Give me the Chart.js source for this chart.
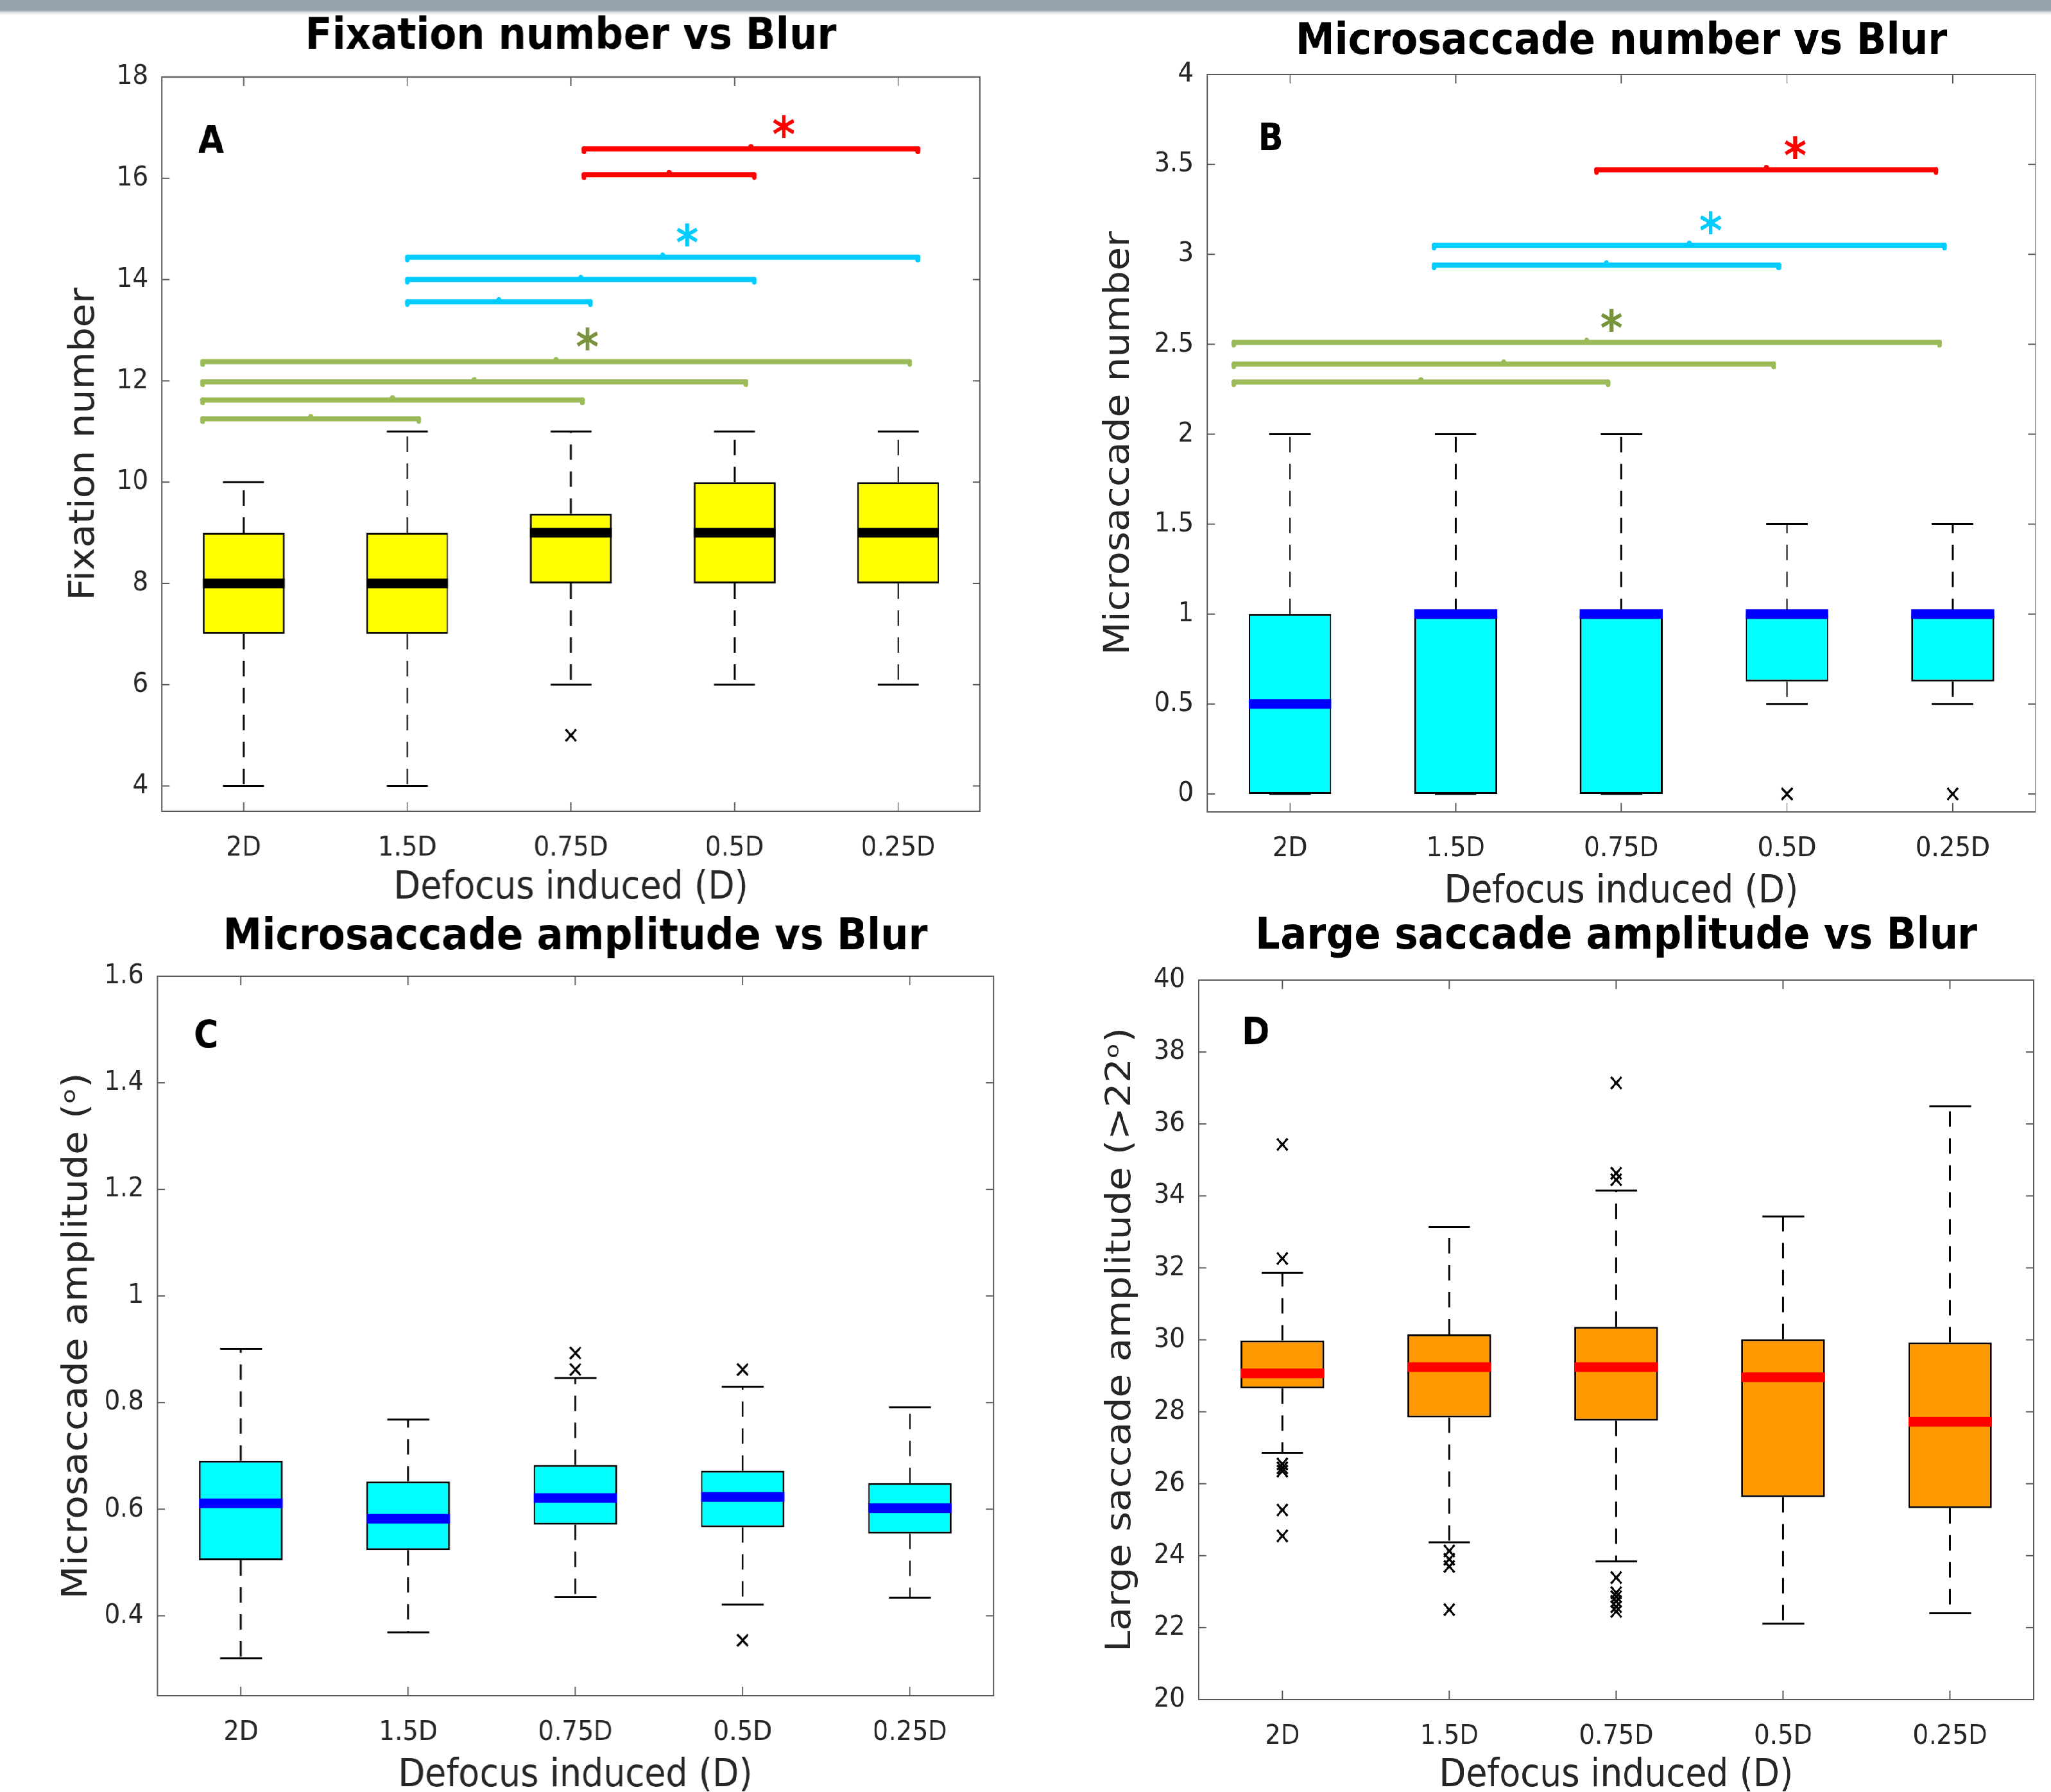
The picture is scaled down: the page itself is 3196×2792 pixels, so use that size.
<!DOCTYPE html>
<html>
<head>
<meta charset="utf-8">
<script src="https://cdn.jsdelivr.net/npm/chart.js@4.4.1/dist/chart.umd.min.js"></script>
<style>
html, body { margin: 0; padding: 0; background: #fff; width: 3196px; height: 2792px; overflow: hidden; }
#topbar { position: absolute; left: 0; top: 0; width: 3196px; height: 24px; z-index: 5;
  background: linear-gradient(#94a3aa 0px, #94a3aa 16px, #d9dcdd 19px, #fff 24px); }
#stage { position: absolute; left: 0; top: 0; width: 3552px; height: 2792px; transform: scaleX(0.9); transform-origin: 0 0; }
#stage canvas { position: absolute; }
</style>
</head>
<body>
<div id="topbar"></div>
<div id="stage"></div>
<script>
// ---- data ----
const categories = ['2D', '1.5D', '0.75D', '0.5D', '0.25D'];

// A: fixation number
const fixLow = [4, 4, 6, 6, 6];
const fixQ1 = [7, 7, 8, 8, 8];
const fixMedian = [8, 8, 9, 9, 9];
const fixQ3 = [9, 9, 9.375, 10, 10];
const fixHigh = [10, 11, 11, 11, 11];
const fixOutliers = [[2, 5]];
const fixTicks = [4, 6, 8, 10, 12, 14, 16, 18];
const fixSigGreen = [[0, 1, 11.25], [0, 2, 11.62], [0, 3, 11.98], [0, 4, 12.38]];
const fixSigCyan = [[1, 2, 13.56], [1, 3, 14.0], [1, 4, 14.44]];
const fixSigRed = [[2, 3, 16.07], [2, 4, 16.58]];

// B: microsaccade number
const msnLow = [0, 0, 0, 0.5, 0.5];
const msnQ1 = [0, 0, 0, 0.625, 0.625];
const msnMedian = [0.5, 1, 1, 1, 1];
const msnQ3 = [1, 1, 1, 1, 1];
const msnHigh = [2, 2, 2, 1.5, 1.5];
const msnOutliers = [[3, 0], [4, 0]];
const msnTicks = [0, 0.5, 1, 1.5, 2, 2.5, 3, 3.5, 4];
const msnSigGreen = [[0, 2, 2.29], [0, 3, 2.39], [0, 4, 2.51]];
const msnSigCyan = [[1, 3, 2.94], [1, 4, 3.05]];
const msnSigRed = [[2, 4, 3.47]];

// C: microsaccade amplitude
const msaLow = [0.32, 0.369, 0.435, 0.421, 0.434];
const msaQ1 = [0.504, 0.523, 0.571, 0.566, 0.554];
const msaMedian = [0.611, 0.582, 0.621, 0.623, 0.602];
const msaQ3 = [0.691, 0.652, 0.683, 0.672, 0.649];
const msaHigh = [0.901, 0.768, 0.846, 0.83, 0.791];
const msaOutliers = [[2, 0.893], [2, 0.862], [3, 0.862], [3, 0.354]];
const msaTicks = [0.4, 0.6, 0.8, 1, 1.2, 1.4, 1.6];

// D: large saccade amplitude
const lsaLow = [26.86, 24.37, 23.84, 22.11, 22.4];
const lsaQ1 = [28.65, 27.84, 27.75, 25.63, 25.32];
const lsaMedian = [29.07, 29.24, 29.24, 28.96, 27.72];
const lsaQ3 = [29.98, 30.15, 30.36, 30.02, 29.93];
const lsaHigh = [31.86, 33.14, 34.15, 33.43, 36.49];
const lsaOutliers = [
  [0, 35.43], [0, 32.26], [0, 26.55], [0, 26.44], [0, 26.35], [0, 25.27], [0, 24.55],
  [1, 24.13], [1, 23.9], [1, 23.7], [1, 22.5],
  [2, 37.14], [2, 34.63], [2, 34.45], [2, 23.39], [2, 22.97], [2, 22.86], [2, 22.73], [2, 22.58], [2, 22.45]
];
const lsaTicks = [20, 22, 24, 26, 28, 30, 32, 34, 36, 38, 40];

// ---- styling / layout ----
const SX = 0.9; // the figure is horizontally squeezed
const FONT = '"DejaVu Sans", "Noto Sans", sans-serif';
const GREEN = '#9bbb59', GREEN_STAR = '#77933c', CYAN = '#00ccff', RED = '#ff0000';

function line(ctx, x0, y0, x1, y1) {
    ctx.beginPath();
    ctx.moveTo(x0, y0);
    ctx.lineTo(x1, y1);
    ctx.stroke();
}

// draws whiskers, medians, the axes box and significance bars
function boxParts(stats, panel) {
    return {
        id: 'boxparts',
        beforeDatasetsDraw(chart) {
            const { ctx, scales: { x, y } } = chart;
            const step = x.getPixelForValue(1) - x.getPixelForValue(0);
            ctx.save();
            ctx.strokeStyle = '#000';
            ctx.lineWidth = 3;
            stats.q1.forEach((q1, i) => {
                const cx = x.getPixelForValue(i);
                ctx.setLineDash([24, 18]);
                [[stats.q3[i], stats.high[i]], [q1, stats.low[i]]].forEach(([a, b]) => {
                    if (a !== b) line(ctx, cx, y.getPixelForValue(a), cx, y.getPixelForValue(b));
                });
                ctx.setLineDash([]);
                [stats.high[i], stats.low[i]].forEach(v => {
                    const py = y.getPixelForValue(v);
                    line(ctx, cx - step * 0.125, py, cx + step * 0.125, py);
                });
            });
            ctx.restore();
        },
        afterDatasetsDraw(chart) {
            const { ctx, chartArea: a, scales: { x, y } } = chart;
            const bars = chart.getDatasetMeta(0).data;
            const step = x.getPixelForValue(1) - x.getPixelForValue(0);
            const catX = f => x.getPixelForValue(0) + f * step;
            ctx.save();

            // medians
            ctx.strokeStyle = stats.medianColor;
            ctx.lineWidth = 15;
            stats.median.forEach((m, i) => {
                const el = bars[i];
                const py = y.getPixelForValue(m);
                line(ctx, el.x - el.width / 2, py, el.x + el.width / 2, py);
            });

            // axes box with inward ticks
            ctx.strokeStyle = '#595959';
            ctx.lineWidth = 2;
            ctx.strokeRect(a.left, a.top, a.right - a.left, a.bottom - a.top);
            y.ticks.forEach(t => {
                const py = y.getPixelForValue(t.value);
                line(ctx, a.left, py, a.left + 13, py);
                line(ctx, a.right - 13, py, a.right, py);
            });
            categories.forEach((c, i) => {
                const px = x.getPixelForValue(i);
                line(ctx, px, a.bottom, px, a.bottom - 14);
                line(ctx, px, a.top, px, a.top + 14);
            });

            // significance bars
            (panel.sig || []).forEach(g => {
                ctx.strokeStyle = g.color;
                ctx.fillStyle = g.color;
                ctx.lineWidth = 8;
                ctx.lineCap = 'round';
                g.rows.forEach(([i, j, v]) => {
                    const x0 = catX(i + g.start), x1 = catX(j + g.end);
                    const py = y.getPixelForValue(v);
                    line(ctx, x0, py, x1, py);
                    line(ctx, x0, py, x0, py + 4);
                    line(ctx, x1, py, x1, py + 4);
                    ctx.beginPath();
                    ctx.arc((x0 + x1) / 2, py - 3, 4.5, 0, 2 * Math.PI);
                    ctx.fill();
                });
                const topV = Math.max(...g.rows.map(r => r[2]));
                ctx.fillStyle = g.starColor;
                ctx.font = `bold 76px ${FONT}`;
                ctx.textAlign = 'center';
                ctx.textBaseline = 'alphabetic';
                ctx.fillText('*', catX(g.starX), y.getPixelForValue(topV) + 4);
            });

            // panel letter
            ctx.fillStyle = '#000';
            ctx.font = `bold 58px ${FONT}`;
            ctx.textAlign = 'center';
            ctx.textBaseline = 'middle';
            ctx.fillText(panel.letter, a.left + panel.letterDX / SX, a.top + panel.letterDY);
            ctx.restore();
        }
    };
}

function makePanel(panel, stats) {
    const canvas = document.createElement('canvas');
    const w = (panel.cR - panel.cL) / SX;
    const h = panel.cB - panel.cT;
    canvas.width = w;
    canvas.height = h;
    canvas.style.left = (panel.cL / SX) + 'px';
    canvas.style.top = panel.cT + 'px';
    canvas.style.width = w + 'px';
    canvas.style.height = h + 'px';
    document.getElementById('stage').appendChild(canvas);

    const titleLH = 68 * 1.2;
    const titleTop = panel.titleY - panel.cT - titleLH / 2;
    const titleBottom = (panel.pT - panel.cT) - titleTop - titleLH;
    const axisLH = 60 * 1.2;

    new Chart(canvas, {
        type: 'bar',
        data: {
            labels: categories,
            datasets: [{
                type: 'bar',
                data: stats.q1.map((v, i) => [v, stats.q3[i]]),
                backgroundColor: stats.fill,
                borderColor: '#000',
                borderWidth: 3,
                borderSkipped: false,
                barPercentage: 0.5,
                categoryPercentage: 1,
                grouped: false
            }, {
                type: 'line',
                data: stats.outliers.map(([i, v]) => ({ x: categories[i], y: v })),
                showLine: false,
                pointStyle: 'crossRot',
                pointRadius: 13,
                borderColor: '#000',
                pointBorderColor: '#000',
                pointBorderWidth: 3.5,
                pointBackgroundColor: 'rgba(0,0,0,0)'
            }]
        },
        options: {
            responsive: false,
            animation: false,
            devicePixelRatio: 1,
            layout: { padding: { left: 0, top: 0, bottom: 0, right: (panel.cR - panel.pR) / SX } },
            plugins: {
                legend: { display: false },
                tooltip: { enabled: false },
                title: {
                    display: true,
                    text: panel.title,
                    fullSize: false,
                    color: '#000',
                    font: { family: FONT, size: 68, weight: 'bold', lineHeight: 1.2 },
                    padding: { top: titleTop, bottom: titleBottom }
                }
            },
            scales: {
                x: {
                    offset: true,
                    grid: { display: false },
                    border: { display: false },
                    ticks: { color: '#262626', font: { family: FONT, size: 43 }, padding: 24, maxRotation: 0, autoSkip: false },
                    title: {
                        display: true,
                        text: 'Defocus induced (D)',
                        color: '#262626',
                        font: { family: FONT, size: 60, lineHeight: 1.2 },
                        padding: { top: 0, bottom: panel.cB - panel.xlabY - axisLH / 2 }
                    },
                    afterFit: s => { s.height = panel.cB - panel.pB; }
                },
                y: {
                    min: stats.min,
                    max: stats.max,
                    afterBuildTicks: s => { s.ticks = stats.ticks.map(v => ({ value: v })); },
                    grid: { display: false },
                    border: { display: false },
                    ticks: { color: '#262626', font: { family: FONT, size: 43 }, padding: 15.6, callback: v => String(v) },
                    title: {
                        display: true,
                        text: panel.ylabel,
                        color: '#262626',
                        font: { family: FONT, size: 60, lineHeight: 1.2 },
                        padding: { top: (panel.ylabX - panel.cL) / SX - axisLH / 2, bottom: 0 }
                    },
                    afterFit: s => { s.width = (panel.pL - panel.cL) / SX; }
                }
            }
        },
        plugins: [boxParts(stats, panel)]
    });
}

makePanel({
    cL: 0, cR: 1600, cT: 0, cB: 1440, pL: 252, pR: 1527, pT: 120, pB: 1264,
    titleY: 58, ylabX: 132, xlabY: 1384,
    title: 'Fixation number vs Blur', ylabel: 'Fixation number',
    letter: 'A', letterDX: 77, letterDY: 103,
    sig: [
        { rows: fixSigGreen, color: GREEN, starColor: GREEN_STAR, start: -0.25, end: 0.07, starX: 2.1 },
        { rows: fixSigCyan, color: CYAN, starColor: CYAN, start: 0, end: 0.12, starX: 2.71 },
        { rows: fixSigRed, color: RED, starColor: RED, start: 0.08, end: 0.12, starX: 3.3 }
    ]
}, { low: fixLow, q1: fixQ1, median: fixMedian, q3: fixQ3, high: fixHigh, outliers: fixOutliers,
     ticks: fixTicks, min: 3.5, max: 18, fill: '#ffff00', medianColor: '#000000' });

makePanel({
    cL: 1600, cR: 3196, cT: 0, cB: 1440, pL: 1881, pR: 3172, pT: 116, pB: 1265,
    titleY: 66, ylabX: 1744, xlabY: 1390,
    title: 'Microsaccade number vs Blur', ylabel: 'Microsaccade number',
    letter: 'B', letterDX: 99, letterDY: 103,
    sig: [
        { rows: msnSigGreen, color: GREEN, starColor: GREEN_STAR, start: -0.34, end: -0.08, starX: 1.94 },
        { rows: msnSigCyan, color: CYAN, starColor: CYAN, start: -0.13, end: -0.05, starX: 2.54 },
        { rows: msnSigRed, color: RED, starColor: RED, start: -0.15, end: -0.1, starX: 3.05 }
    ]
}, { low: msnLow, q1: msnQ1, median: msnMedian, q3: msnQ3, high: msnHigh, outliers: msnOutliers,
     ticks: msnTicks, min: -0.1, max: 4, fill: '#00ffff', medianColor: '#0000ff' });

makePanel({
    cL: 0, cR: 1600, cT: 1380, cB: 2850, pL: 245, pR: 1548, pT: 1521, pB: 2642,
    titleY: 1461, ylabX: 121, xlabY: 2767,
    title: 'Microsaccade amplitude vs Blur', ylabel: 'Microsaccade amplitude (\u1D52)',
    letter: 'C', letterDX: 76, letterDY: 96
}, { low: msaLow, q1: msaQ1, median: msaMedian, q3: msaQ3, high: msaHigh, outliers: msaOutliers,
     ticks: msaTicks, min: 0.25, max: 1.6, fill: '#00ffff', medianColor: '#0000ff' });

makePanel({
    cL: 1600, cR: 3196, cT: 1380, cB: 2850, pL: 1868, pR: 3169, pT: 1527, pB: 2648,
    titleY: 1460, ylabX: 1747, xlabY: 2767,
    title: 'Large saccade amplitude vs Blur', ylabel: 'Large saccade amplitude (>22\u1D52)',
    letter: 'D', letterDX: 89, letterDY: 85
}, { low: lsaLow, q1: lsaQ1, median: lsaMedian, q3: lsaQ3, high: lsaHigh, outliers: lsaOutliers,
     ticks: lsaTicks, min: 20, max: 40, fill: '#ff9900', medianColor: '#ff0000' });
</script>
</body>
</html>
